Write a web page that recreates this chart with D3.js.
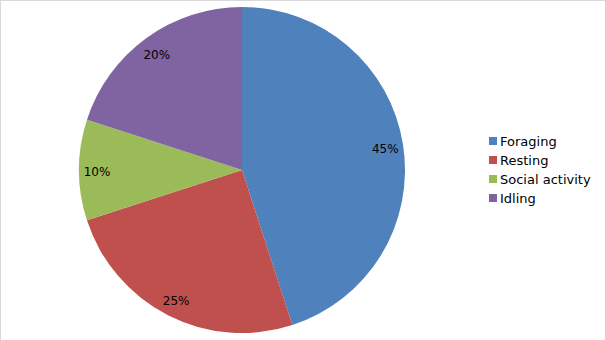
<!DOCTYPE html>
<html>
<head>
<meta charset="utf-8">
<script src="https://cdn.jsdelivr.net/npm/d3@7"></script>
<style>
  body { margin: 0; background: #fff; }
  text { font-family: "DejaVu Sans", sans-serif; fill: #000; }
</style>
</head>
<body>
<div id="grafica"></div>
<script>
// Datos
const actividades = ["Foraging", "Resting", "Social activity", "Idling"]
const porcentajes = [45, 25, 10, 20]
const colores = ["#4F81BD", "#C0504D", "#9BBB59", "#8064A2"]

const anchoTotal = 605
const altoTotal = 340

const centro = { x: 242, y: 170 }
const radio = 163

const svg = d3.select("#grafica").append("svg")
    .attr("width", anchoTotal)
    .attr("height", altoTotal)

// Borde del area del grafico
svg.append("rect")
    .attr("x", 0.5)
    .attr("y", 0.5)
    .attr("width", anchoTotal + 5)
    .attr("height", altoTotal + 5)
    .attr("fill", "none")
    .attr("stroke", "#d9d9d9")

const color = d3.scaleOrdinal()
    .domain(actividades)
    .range(colores)

const datos = actividades.map((a, i) => ({ actividad: a, valor: porcentajes[i] }))

const pie = d3.pie()
    .sort(null)
    .value(d => d.valor)

const arco = d3.arc()
    .innerRadius(0)
    .outerRadius(radio)

const arcoEtiqueta = d3.arc()
    .innerRadius(145)
    .outerRadius(145)

const g = svg.append("g")
    .attr("transform", `translate(${centro.x},${centro.y})`)

const porciones = pie(datos)

g.selectAll("path")
    .data(porciones)
    .enter()
    .append("path")
    .attr("d", arco)
    .attr("fill", d => color(d.data.actividad))

g.selectAll("text.etiqueta")
    .data(porciones)
    .enter()
    .append("text")
    .attr("class", "etiqueta")
    .attr("transform", d => `translate(${arcoEtiqueta.centroid(d)})`)
    .attr("text-anchor", "middle")
    .attr("dy", "0.5em")
    .attr("font-size", "12px")
    .text(d => d.data.valor + "%")

// Leyenda
const legend = svg.append("g")
    .attr("transform", "translate(489, 141)")

actividades.forEach((act, i) => {
    const fila = legend.append("g")
        .attr("transform", `translate(0, ${i * 19})`)

    fila.append("rect")
        .attr("y", -4)
        .attr("width", 8)
        .attr("height", 8)
        .attr("fill", color(act))

    fila.append("text")
        .attr("x", 11)
        .attr("y", 0)
        .attr("dy", "0.35em")
        .attr("font-size", "13px")
        .text(act)
})
</script>
</body>
</html>
